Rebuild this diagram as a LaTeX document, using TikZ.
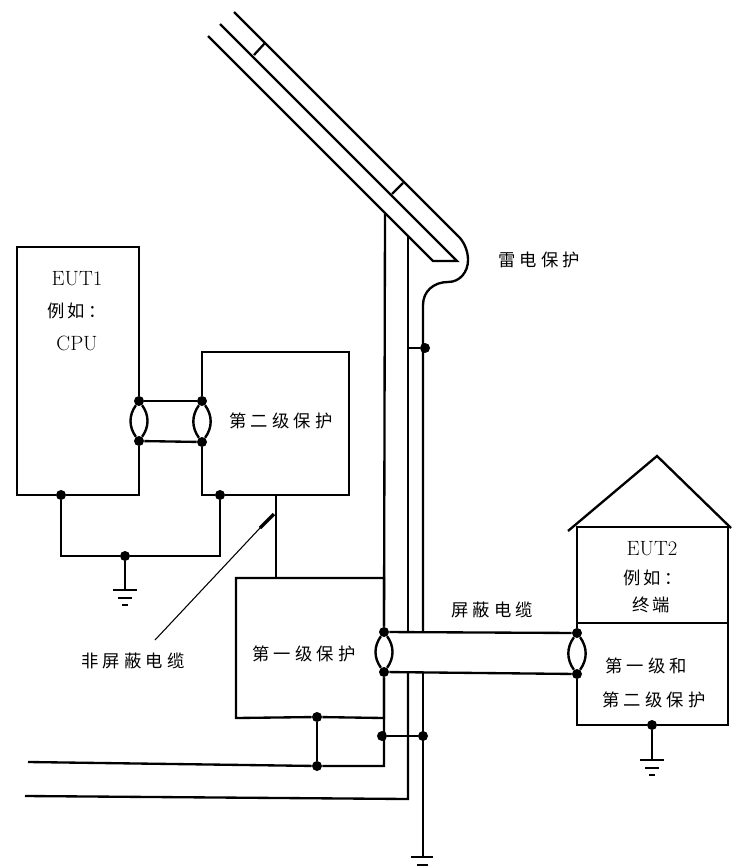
\documentclass[tikz,border=0pt]{standalone}
\usepackage{fontspec}
\setmainfont{Latin Modern Roman}
\newfontfamily\cjk[LetterSpace=24]{Noto Sans CJK SC}
\newfontfamily\cjkn[LetterSpace=14]{Noto Sans CJK SC}
\tikzset{
  wire/.style={line width=1.75pt,line join=miter},
  roofline/.style={line width=1.7pt},
  dot/.style={circle,fill=black,inner sep=0pt,minimum size=7.5pt},
  lab/.style={inner sep=0pt,font=\fontsize{13}{15}\selectfont\cjk},
  labn/.style={inner sep=0pt,font=\fontsize{13}{15}\selectfont\cjkn},
  lat/.style={inner sep=0pt,font=\fontsize{15.5}{17}\selectfont},
  eye/.style={line width=1.8pt,bend left=36},
  earthbar/.style={line width=1.8pt}
}
\newcommand{\earth}[2]{%
  \draw[earthbar] (#1-12,#2) -- (#1+12,#2);
  \draw[earthbar] (#1-7,#2+8) -- (#1+7,#2+8);
  \draw[earthbar] (#1-3,#2+15) -- (#1+3,#2+15);
}
\begin{document}
\begin{tikzpicture}[x=0.75pt,y=-0.75pt]
\useasboundingbox (0,0) rectangle (732,866);
\clip (0,0) rectangle (732,866);
% dots
\node[dot] (a1) at (139,401) {};
\node[dot] (a2) at (139,441) {};
\node[dot] (b1) at (202,401) {};
\node[dot] (b2) at (202,442) {};
\node[dot] (c1) at (61,495) {};
\node[dot] (c2) at (220,495) {};
\node[dot] (c3) at (125,556) {};
\node[dot] (d1) at (384,632) {};
\node[dot] (d2) at (384,672) {};
\node[dot] (e1) at (577,633) {};
\node[dot] (e2) at (577,674) {};
\node[dot] (f1) at (317,717) {};
\node[dot] (f2) at (317,766) {};
\node[dot] (g1) at (382,736) {};
\node[dot] (g2) at (423,736) {};
\node[dot] (h1) at (425,348) {};
\node[dot] (k1) at (652,725) {};
% roof
\coordinate (rt) at (234,12);
\coordinate (rm) at (220,24);
\coordinate (rb) at (208,36);
\coordinate (rtE) at (460,238);
\coordinate (rmE) at (457,261);
\coordinate (rbE) at (433,261);
\draw[roofline] (rm) -- (rmE) -- (rbE) -- (rb);
\draw[wire] (rt) -- (rtE) .. controls (465,244) and (468,252) .. (468,260)
  .. controls (468,272) and (460,282) .. (448,282)
  .. controls (434,282) and (423,291) .. (423,305) -- (423,632);
\coordinate (t1a) at (254,55);
\coordinate (t1b) at (265,43);
\coordinate (t2a) at (392,194);
\coordinate (t2b) at (403,183);
\draw[roofline] (t1a) -- (t1b);
\draw[roofline] (t2a) -- (t2b);
% EUT1
\draw[wire] (a1) -- (139,247) -- (17,247) -- (17,495) -- (c1) -- (139,495) -- (a2);
% second level box
\draw[wire] (b1) -- (202,352) -- (349,352) -- (349,495) -- (c2) -- (202,495) -- (b2);
\draw[wire] (a1) -- (b1);
\draw[wire] (a2) -- (b2);
\draw[eye] (a1) to (a2);
\draw[eye] (a2) to (a1);
\draw[eye] (b1) to (b2);
\draw[eye] (b2) to (b1);
% earth of EUT1
\draw[wire] (c1) -- (61,556) -- (c3) -- (220,556) -- (c2);
\draw[wire] (c3) -- (125,590);
\earth{125}{590}
% first level box
\coordinate (p1) at (276,495);
\coordinate (p2) at (276,578);
\draw[wire] (p1) -- (p2);
\draw[wire] (d1) -- (384,578) -- (236,578) -- (236,718) -- (f1) -- (384,718) -- (d2);
\draw[wire] (385,214) -- (d1);
\draw[wire] (d2) -- (384,766) -- (f2) -- (28,762);
\draw[wire] (f1) -- (f2);
\draw[wire] (g1) -- (g2);
% conductors
\draw[wire] (408,236) -- (408,632);
\draw[wire] (408,673) -- (408,799) -- (25,796);
\draw[wire] (408,348) -- (h1);
\draw[wire] (423,673) -- (423,857);
\draw[earthbar] (411,857) -- (433,857);
\draw[earthbar] (417,865) -- (428,865);
% screened cable
\draw[wire] (d1) -- (e1);
\draw[wire] (d2) -- (e2);
\draw[eye] (d1) to (d2);
\draw[eye] (d2) to (d1);
\draw[eye] (e1) to (e2);
\draw[eye] (e2) to (e1);
% EUT2
\draw[wire] (e1) -- (577,527) -- (728,527) -- (728,725) -- (k1) -- (577,725) -- (e2);
\draw[wire] (577,623) -- (728,623);
\draw[wire] (568,531) -- (657,456) -- (731,528);
\draw[wire] (k1) -- (652,760);
\earth{652}{760}
% leader
\coordinate (l0) at (155,640);
\coordinate (l1) at (260,528);
\coordinate (l2) at (274,514);
\draw[line width=0.8pt] (l0) -- (l1);
\draw[line width=2.6pt] (l1) -- (l2);
% labels
\node[lab] (t1) at (539,260) {雷电保护};
\node[lat] (t2) at (77,279) {EUT1};
\node[labn] (t3) at (77,311) {例如\kern3pt：};
\node[lat] (t4) at (77,343) {CPU};
\node[lab] (t5) at (281,421) {第二级保护};
\node[lab] (t6) at (304,654) {第一级保护};
\node[lab] (t7) at (492,610) {屏蔽电缆};
\node[lab] (t8) at (133,661) {非屏蔽电缆};
\node[lat] (t9) at (652,549) {EUT2};
\node[labn] (t10) at (653,578) {例如\kern3pt：};
\node[labn] (t11) at (651,605) {终端};
\node[lab] (t12) at (646,666) {第一级和};
\node[lab] (t13) at (654,700) {第二级保护};
\end{tikzpicture}
\end{document}
